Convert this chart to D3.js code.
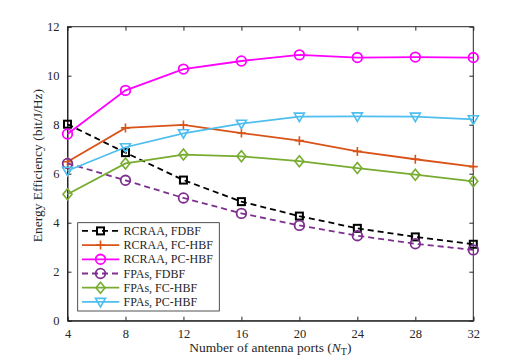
<!DOCTYPE html>
<html><head><meta charset="utf-8">
<script src="https://cdn.jsdelivr.net/npm/d3@7"></script>
<style>body{margin:0;background:#fff}svg{display:block}</style>
</head><body><svg id="c" width="523" height="361" font-family="'Liberation Serif', 'Times New Roman', Times, serif"></svg>
<script>
const ports = [4, 8, 12, 16, 20, 24, 28, 32];
const rcraaFDBF = [8.02, 6.86, 5.74, 4.86, 4.27, 3.77, 3.42, 3.12];
const rcraaFCHBF = [6.49, 7.87, 7.99, 7.66, 7.35, 6.91, 6.59, 6.29];
const rcraaPCHBF = [7.62, 9.40, 10.27, 10.60, 10.85, 10.74, 10.76, 10.74];
const fpaFDBF = [6.42, 5.73, 5.01, 4.38, 3.89, 3.47, 3.14, 2.89];
const fpaFCHBF = [5.16, 6.42, 6.78, 6.71, 6.51, 6.23, 5.96, 5.69];
const fpaPCHBF = [6.12, 7.08, 7.65, 8.04, 8.33, 8.34, 8.33, 8.22];
const xTicks = [4, 8, 12, 16, 20, 24, 28, 32];
const yTicks = [0, 2, 4, 6, 8, 10, 12];
const seriesNames = ["RCRAA, FDBF", "RCRAA, FC-HBF", "RCRAA, PC-HBF", "FPAs, FDBF", "FPAs, FC-HBF", "FPAs, PC-HBF"];

const series = [
  {name: seriesNames[0], v: rcraaFDBF, color: "#000000", dash: "6,4", marker: "square"},
  {name: seriesNames[1], v: rcraaFCHBF, color: "#D95319", dash: null, marker: "plus"},
  {name: seriesNames[2], v: rcraaPCHBF, color: "#FF00FF", dash: null, marker: "circle"},
  {name: seriesNames[3], v: fpaFDBF, color: "#7E2F8E", dash: "6,4", marker: "circle"},
  {name: seriesNames[4], v: fpaFCHBF, color: "#77AC30", dash: null, marker: "diamond"},
  {name: seriesNames[5], v: fpaPCHBF, color: "#4DBEEE", dash: null, marker: "triangle"}
];

const FONT = "'Liberation Serif', 'Times New Roman', Times, serif";
const svg = d3.select("#c");
const L = 67.5, R = 473.3, T = 26.7, B = 320.7;
const x = d3.scaleLinear().domain([4, 32]).range([L, R]);
const y = d3.scaleLinear().domain([0, 12]).range([B, T]);
const axisCol = "#262626";

svg.append("rect").attr("x", L).attr("y", T).attr("width", R - L).attr("height", B - T)
  .attr("fill", "none").attr("stroke", axisCol).attr("stroke-width", 1);

const xa = svg.append("g").attr("transform", `translate(0,${B})`)
  .call(d3.axisBottom(x).tickValues(xTicks).tickSize(-4).tickPadding(8.5));
const ya = svg.append("g").attr("transform", `translate(${L},0)`)
  .call(d3.axisLeft(y).tickValues(yTicks).tickSize(-4).tickPadding(8));
[xa, ya].forEach(a => {
  a.attr("font-family", FONT).attr("font-size", 12.5);
  a.select(".domain").attr("stroke", axisCol);
  a.selectAll(".tick line").attr("stroke", axisCol);
  a.selectAll("text").attr("fill", axisCol);
});
svg.append("g").attr("transform", `translate(0,${T})`)
  .call(d3.axisTop(x).tickValues(xTicks).tickSize(-4).tickFormat(""))
  .call(g => { g.select(".domain").remove(); g.selectAll("line").attr("stroke", axisCol); });
svg.append("g").attr("transform", `translate(${R},0)`)
  .call(d3.axisRight(y).tickValues(yTicks).tickSize(-4).tickFormat(""))
  .call(g => { g.select(".domain").remove(); g.selectAll("line").attr("stroke", axisCol); });

function drawMarker(g, type, cx, cy, color) {
  const sw = 1.6;
  if (type === "square") {
    g.append("rect").attr("x", cx - 3.5).attr("y", cy - 3.5).attr("width", 7).attr("height", 7)
      .attr("fill", "none").attr("stroke", color).attr("stroke-width", sw + 0.4);
  } else if (type === "plus") {
    g.append("path").attr("d", `M${cx - 4.5},${cy}H${cx + 4.5}M${cx},${cy - 4.5}V${cy + 4.5}`)
      .attr("stroke", color).attr("stroke-width", sw);
  } else if (type === "circle") {
    g.append("circle").attr("cx", cx).attr("cy", cy).attr("r", 4.8)
      .attr("fill", "none").attr("stroke", color).attr("stroke-width", sw + 0.2);
  } else if (type === "diamond") {
    g.append("path").attr("d", `M${cx},${cy - 5.5}L${cx + 4.5},${cy}L${cx},${cy + 5.5}L${cx - 4.5},${cy}Z`)
      .attr("fill", "none").attr("stroke", color).attr("stroke-width", sw);
  } else if (type === "triangle") {
    g.append("path").attr("d", `M${cx - 5},${cy - 3.5}L${cx + 5},${cy - 3.5}L${cx},${cy + 5}Z`)
      .attr("fill", "none").attr("stroke", color).attr("stroke-width", sw);
  }
}

const line = d3.line().x((d, i) => x(ports[i])).y(d => y(d));
series.forEach(s => {
  const g = svg.append("g");
  g.append("path").datum(s.v).attr("d", line).attr("fill", "none")
    .attr("stroke", s.color).attr("stroke-width", 1.8)
    .attr("stroke-dasharray", s.dash);
  s.v.forEach((v, i) => drawMarker(g, s.marker, x(ports[i]), y(v), s.color));
});

const lg = svg.append("g");
const lx = 77.7, ly = 222.7, lw = 141.6, lh = 88.3;
lg.append("rect").attr("x", lx).attr("y", ly).attr("width", lw).attr("height", lh)
  .attr("fill", "#fff").attr("stroke", axisCol).attr("stroke-width", 0.8);
series.forEach((s, i) => {
  const cy = 230.9 + i * 14.2;
  lg.append("line").attr("x1", 82).attr("x2", 119.3).attr("y1", cy).attr("y2", cy)
    .attr("stroke", s.color).attr("stroke-width", 1.8).attr("stroke-dasharray", s.dash);
  drawMarker(lg, s.marker, 100.5, cy, s.color);
  lg.append("text").attr("x", 123.5).attr("y", cy + 4).attr("font-family", FONT)
    .attr("font-size", 12).attr("fill", axisCol).text(s.name);
});

svg.append("text").attr("transform", `translate(42,${(T + B) / 2 - 8}) rotate(-90)`)
  .attr("text-anchor", "middle").attr("font-family", FONT).attr("font-size", 13.5)
  .attr("fill", axisCol).text("Energy Efficiency (bit/J/Hz)");
const xl = svg.append("text").attr("x", (L + R) / 2).attr("y", 352).attr("text-anchor", "middle")
  .attr("font-family", FONT).attr("font-size", 13.5).attr("fill", axisCol);
xl.append("tspan").text("Number of antenna ports (");
xl.append("tspan").attr("font-style", "italic").text("N");
xl.append("tspan").attr("font-size", 10).attr("dy", 3).text("T");
xl.append("tspan").attr("dy", -3).text(")");
</script></body></html>
